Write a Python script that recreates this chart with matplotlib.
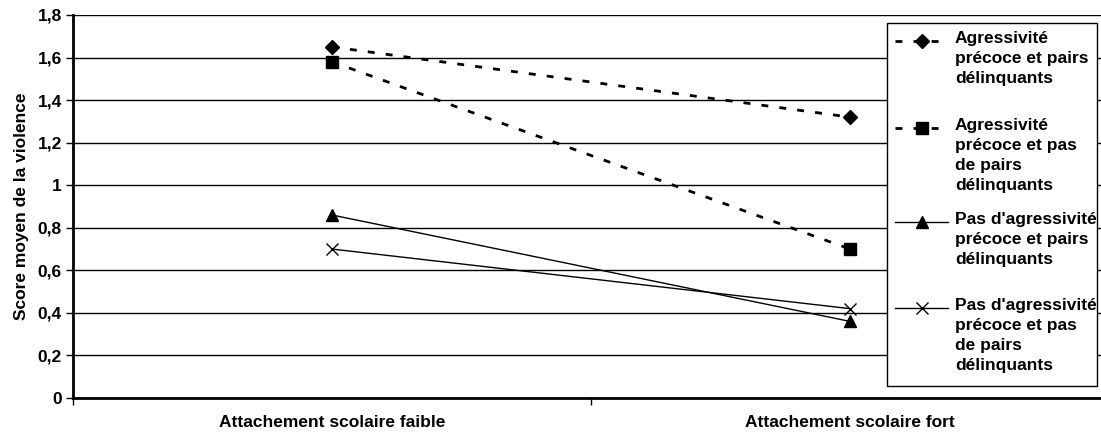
import matplotlib
matplotlib.use('Agg')
import matplotlib.pyplot as plt
from matplotlib.lines import Line2D
from matplotlib.patches import Rectangle

plt.rcParams['font.family'] = ['Liberation Sans', 'DejaVu Sans']
plt.rcParams['font.weight'] = 'bold'

# data
categories = ['Attachement scolaire faible', 'Attachement scolaire fort']
series_labels = [
    "Agressivité\nprécoce et pairs\ndélinquants",
    "Agressivité\nprécoce et pas\nde pairs\ndélinquants",
    "Pas d'agressivité\nprécoce et pairs\ndélinquants",
    "Pas d'agressivité\nprécoce et pas\nde pairs\ndélinquants",
]
agr_pairs = [1.65, 1.32]
agr_pas_pairs = [1.58, 0.70]
pas_agr_pairs = [0.86, 0.36]
pas_agr_pas_pairs = [0.70, 0.42]
y_ticks = [0, 0.2, 0.4, 0.6, 0.8, 1.0, 1.2, 1.4, 1.6, 1.8]
y_ticklabels = ['0', '0,2', '0,4', '0,6', '0,8', '1', '1,2', '1,4', '1,6', '1,8']

FS = 12.5
fig = plt.figure(figsize=(11.01, 4.34), dpi=100)
ax = fig.add_axes([73 / 1101, 36 / 434, 1036 / 1101, 383 / 434])

x = [0.5, 1.5]
dash = (0, (2.5, 4))
styles = [
    dict(linestyle=dash, lw=2, marker='D', ms=7),
    dict(linestyle=dash, lw=2, marker='s', ms=8),
    dict(linestyle='-', lw=1, marker='^', ms=9),
    dict(linestyle='-', lw=1, marker='x', ms=9, mew=1),
]
series = [agr_pairs, agr_pas_pairs, pas_agr_pairs, pas_agr_pas_pairs]
for vals, st in zip(series, styles):
    ax.plot(x, vals, color='black', mfc='black', mec='black', zorder=3, **st)

ax.set_xlim(0, 2)
ax.set_ylim(0, 1.8)
ax.set_yticks(y_ticks)
ax.set_yticklabels(y_ticklabels, fontsize=FS, fontweight='bold')
ax.yaxis.grid(True, color='black', lw=1)
ax.set_axisbelow(True)

ax.set_xticks(x)
ax.set_xticklabels(categories, fontsize=FS, fontweight='bold')
ax.tick_params(axis='x', length=0, pad=12)
ax.set_xticks([0, 1, 2], minor=True)
ax.tick_params(axis='x', which='minor', length=5, width=1, direction='out')
ax.tick_params(axis='y', length=5, width=1, direction='out', pad=3)

for s in ['top', 'right']:
    ax.spines[s].set_visible(False)
ax.spines['left'].set_linewidth(2)
ax.spines['bottom'].set_linewidth(2)

ax.set_ylabel('Score moyen de la violence', fontsize=FS, fontweight='bold', labelpad=6)

# legend box drawn manually (figure pixels)
W, H = 1101, 434
fig.patches.append(Rectangle((887 / W, 1 - 386 / H), 210 / W, 363 / H,
                             transform=fig.transFigure, facecolor='white',
                             edgecolor='black', lw=1, zorder=5))
entry_y = [41, 128, 222, 308]
for lab, st, ey in zip(series_labels, styles, entry_y):
    yy = 1 - ey / H
    ln = Line2D([895 / W, 948 / W], [yy, yy], transform=fig.transFigure,
                color='black', lw=st['lw'], linestyle=st['linestyle'], zorder=6)
    fig.lines.append(ln)
    mk = Line2D([922 / W], [yy], transform=fig.transFigure, color='black',
                marker=st['marker'], ms=st['ms'], mfc='black', mec='black',
                mew=st.get('mew', 1), zorder=7)
    fig.lines.append(mk)
    fig.text(955 / W, yy + 10 / H, lab, fontsize=FS, fontweight='bold',
             va='top', ha='left', linespacing=1.42, zorder=8)

fig.savefig('out.png', dpi=100)
